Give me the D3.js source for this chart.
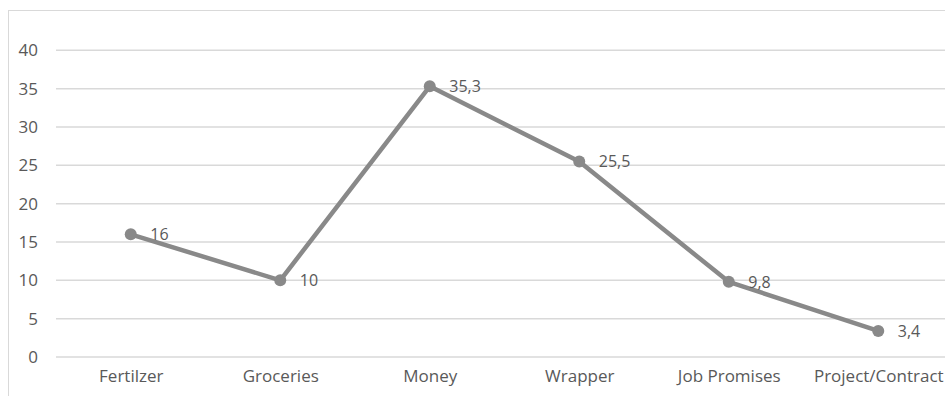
<!DOCTYPE html>
<html>
<head>
<meta charset="utf-8">
<script src="https://cdn.jsdelivr.net/npm/d3@7"></script>
<style>
  html, body { margin: 0; padding: 0; background: #fff; }
  svg { display: block; overflow: hidden; }
  text { font-family: "Open Sans", sans-serif; fill: #595959; }
</style>
</head>
<body>
<svg id="chart" width="945" height="396"></svg>
<script>
// Chart data
const categories = ["Fertilzer", "Groceries", "Money", "Wrapper", "Job Promises", "Project/Contract"];
const values = [16, 10, 35.3, 25.5, 9.8, 3.4];
const labels = ["16", "10", "35,3", "25,5", "9,8", "3,4"];
const yTicks = [0, 5, 10, 15, 20, 25, 30, 35, 40];

const svg = d3.select("#chart");
const W = 945, H = 396;

// Plot area runs past the right edge of the frame
const plot = { left: 56, right: 953, top: 50.3, bottom: 357 };

const x = d3.scalePoint().domain(categories).range([plot.left, plot.right]).padding(0.5);
const y = d3.scaleLinear().domain([0, 40]).range([plot.bottom, plot.top]);

// Chart frame
svg.append("rect")
  .attr("x", 8.5).attr("y", 10.5)
  .attr("width", 1000).attr("height", 500)
  .attr("fill", "none").attr("stroke", "#d9d9d9").attr("stroke-width", 1);

// Horizontal gridlines
svg.append("g")
  .selectAll("line")
  .data(yTicks)
  .join("line")
  .attr("x1", plot.left).attr("x2", W + 10)
  .attr("y1", d => y(d)).attr("y2", d => y(d))
  .attr("stroke", "#d9d9d9").attr("stroke-width", 1.5);

// Y axis labels
const yAxis = d3.axisLeft(y).tickValues(yTicks).tickSize(0).tickPadding(0);
svg.append("g")
  .attr("transform", "translate(38,0)")
  .call(yAxis)
  .call(g => g.select(".domain").remove())
  .call(g => g.selectAll("text")
    .attr("font-family", "Open Sans, sans-serif")
    .attr("font-size", 17)
    .attr("fill", "#595959"));

// X axis labels
const xAxis = d3.axisBottom(x).tickSize(0).tickPadding(0);
svg.append("g")
  .attr("transform", "translate(0,370)")
  .call(xAxis)
  .call(g => g.select(".domain").remove())
  .call(g => g.selectAll("text")
    .attr("font-family", "Open Sans, sans-serif")
    .attr("font-size", 17)
    .attr("fill", "#595959"));

const pts = categories.map((c, i) => ({ c, v: values[i], label: labels[i] }));

// Series line
svg.append("path")
  .datum(pts)
  .attr("fill", "none")
  .attr("stroke", "#898989")
  .attr("stroke-width", 4.5)
  .attr("stroke-linejoin", "round")
  .attr("d", d3.line().x(d => x(d.c)).y(d => y(d.v)));

// Markers
svg.append("g")
  .selectAll("circle")
  .data(pts)
  .join("circle")
  .attr("cx", d => x(d.c)).attr("cy", d => y(d.v))
  .attr("r", 6)
  .attr("fill", "#898989");

// Data labels
svg.append("g")
  .selectAll("text")
  .data(pts)
  .join("text")
  .attr("x", d => x(d.c) + 19.5)
  .attr("y", d => y(d.v))
  .attr("dy", "0.36em")
  .attr("font-size", 16)
  .attr("fill", "#404040")
  .text(d => d.label);
</script>
</body>
</html>
